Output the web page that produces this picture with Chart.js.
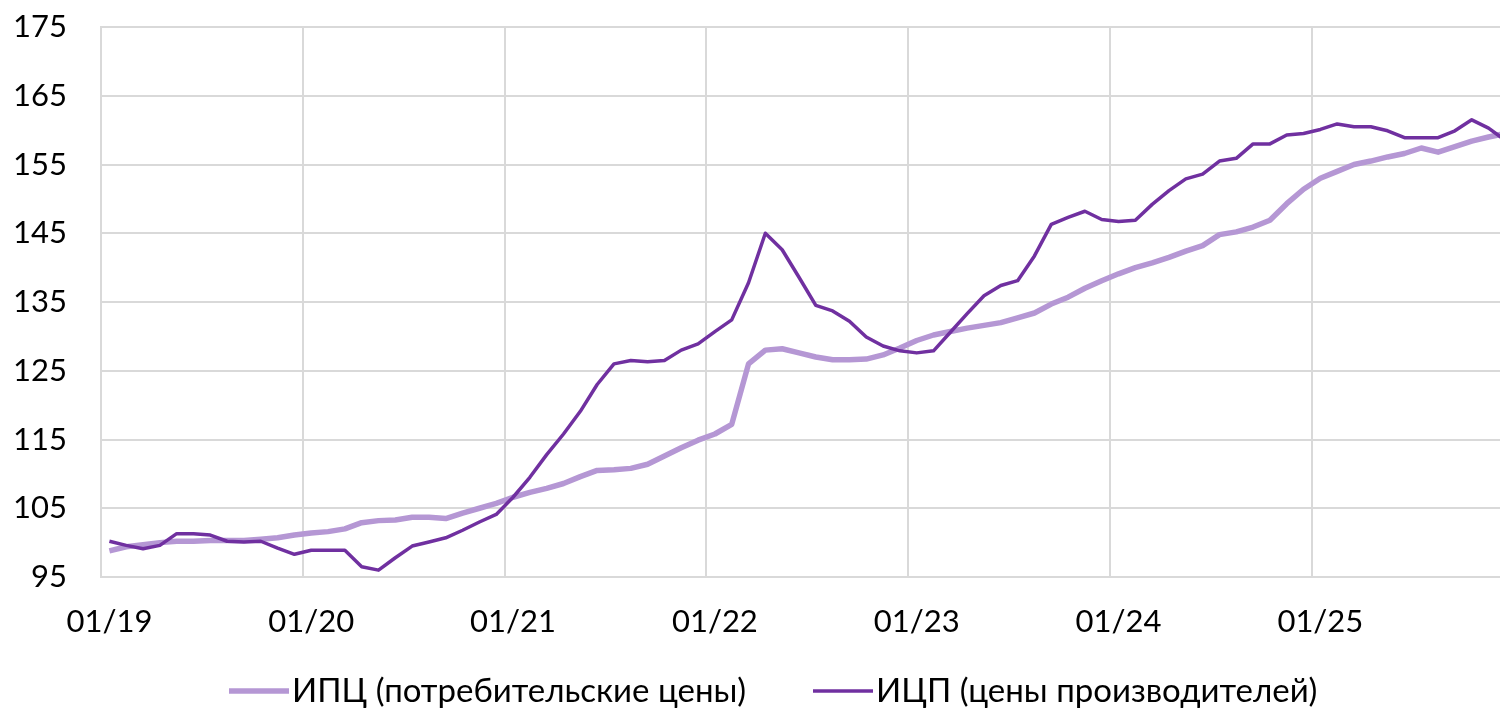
<!DOCTYPE html>
<html>
<head>
<meta charset="utf-8">
<script src="https://cdn.jsdelivr.net/npm/chart.js@4.4.1/dist/chart.umd.min.js"></script>
<style>
html, body { margin: 0; padding: 0; background: #fff; overflow: hidden; }
#wrap { width: 1500px; height: 709px; position: relative; }
</style>
</head>
<body>
<div id="wrap"><canvas id="graphCanvas"></canvas></div>
<script>
// year labels on the x axis (one every 12 months, starting 01/19)
const tickLabels = ['01/19', '01/20', '01/21', '01/22', '01/23', '01/24', '01/25'];

const seriesNames = ['ИПЦ (потребительские цены)', 'ИЦП (цены производителей)'];

// monthly index values, 01/2019 = ~100
const cpi = [
  98.8, 99.4, 99.7, 100.0, 100.2, 100.2, 100.3, 100.3, 100.3, 100.5, 100.7, 101.1,
  101.4, 101.6, 102.0, 102.9, 103.2, 103.3, 103.7, 103.7, 103.5, 104.3, 105.0, 105.7,
  106.6, 107.3, 107.9, 108.6, 109.6, 110.5, 110.6, 110.8, 111.4, 112.6, 113.8, 114.9,
  115.8, 117.2, 126.0, 128.0, 128.2, 127.6, 127.0, 126.6, 126.6, 126.7, 127.3, 128.3,
  129.4, 130.2, 130.7, 131.2, 131.6, 132.0, 132.7, 133.4, 134.7, 135.7, 137.0, 138.1,
  139.1, 140.0, 140.7, 141.5, 142.4, 143.2, 144.8, 145.2, 145.9, 146.9, 149.3, 151.4,
  153.0, 154.0, 155.0, 155.5, 156.1, 156.6, 157.4, 156.8, 157.6, 158.4, 159.0, 159.5
];
const ppi = [
  100.2, 99.6, 99.1, 99.6, 101.3, 101.3, 101.1, 100.2, 100.1, 100.2, 99.2, 98.3,
  98.9, 98.9, 98.9, 96.5, 96.0, 97.8, 99.5, 100.1, 100.7, 101.8, 103.0, 104.1,
  106.6, 109.5, 112.8, 115.8, 119.1, 123.0, 126.0, 126.5, 126.3, 126.5, 128.0, 128.9,
  130.7, 132.4, 137.8, 145.0, 142.6, 138.6, 134.5, 133.7, 132.2, 129.9, 128.6, 127.9,
  127.6, 127.9, 130.6, 133.3, 135.9, 137.4, 138.1, 141.7, 146.3, 147.3, 148.2, 147.0,
  146.7, 146.9, 149.2, 151.2, 152.9, 153.6, 155.5, 155.9, 158.0, 158.0, 159.3, 159.5,
  160.1, 160.9, 160.5, 160.5, 159.9, 158.9, 158.9, 158.9, 159.9, 161.5, 160.3, 158.5
];

const FONT = 'Lato';
const GRID = '#d9d9d9';

function toPoints(arr) {
    return arr.map((v, i) => ({ x: i, y: v }));
}

// legend drawn by hand: short line + label, like the Excel original
const lineLegend = {
    id: 'lineLegend',
    afterDraw(chart) {
        const ctx = chart.ctx;
        const starts = [229, 813];
        const y = 691;
        ctx.save();
        ctx.font = '33px ' + FONT;
        ctx.textBaseline = 'middle';
        ctx.textAlign = 'left';
        chart.data.datasets.forEach((ds, i) => {
            const x = starts[i];
            ctx.strokeStyle = ds.borderColor;
            ctx.lineWidth = ds.borderWidth;
            ctx.lineCap = 'butt';
            ctx.beginPath();
            ctx.moveTo(x, y);
            ctx.lineTo(x + 60, y);
            ctx.stroke();
            ctx.fillStyle = '#000';
            ctx.fillText(ds.label, x + 63, y);
        });
        ctx.restore();
    }
};

new Chart(document.getElementById('graphCanvas'), {
    type: 'line',
    data: {
        datasets: [
            {
                label: seriesNames[0],
                data: toPoints(cpi),
                borderColor: '#b597d4',
                backgroundColor: '#b597d4',
                borderWidth: 5.5,
                pointRadius: 0,
                tension: 0,
                borderJoinStyle: 'round',
                order: 1
            },
            {
                label: seriesNames[1],
                data: toPoints(ppi),
                borderColor: '#7030a0',
                backgroundColor: '#7030a0',
                borderWidth: 3.5,
                pointRadius: 0,
                tension: 0,
                borderJoinStyle: 'round',
                order: 0
            }
        ]
    },
    options: {
        responsive: true,
        maintainAspectRatio: false,
        animation: false,
        events: [],
        layout: { padding: { top: 27, right: 0, bottom: 0, left: 0 } },
        plugins: {
            legend: { display: false },
            tooltip: { enabled: false }
        },
        scales: {
            x: {
                type: 'linear',
                min: -0.5,
                max: 82.68,
                afterBuildTicks: (scale) => {
                    scale.ticks = tickLabels.map((t, k) => ({ value: -0.5 + 12 * k }));
                },
                afterFit: (scale) => { scale.height = 132; },
                grid: { color: GRID, lineWidth: 2, drawTicks: false },
                border: { color: GRID, width: 2 },
                ticks: {
                    autoSkip: false,
                    maxRotation: 0,
                    padding: 26,
                    labelOffset: 8.4,
                    color: '#000',
                    font: { family: FONT, size: 31 },
                    callback: (val, idx) => tickLabels[idx]
                }
            },
            y: {
                min: 95,
                max: 175,
                afterFit: (scale) => {
                    scale.width = 101;
                    scale.paddingTop = 0;
                    scale.paddingBottom = 0;
                },
                grid: { color: GRID, lineWidth: 2, drawTicks: false },
                border: { color: GRID, width: 2 },
                ticks: {
                    stepSize: 10,
                    padding: 34,
                    color: '#000',
                    font: { family: FONT, size: 31 }
                }
            }
        }
    },
    plugins: [lineLegend]
});
</script>
</body>
</html>
